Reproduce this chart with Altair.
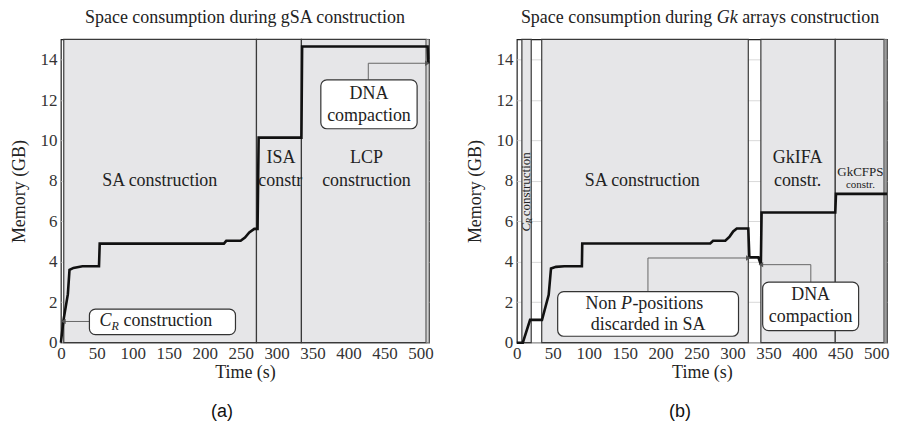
import altair as alt
import pandas as pd

SERIF = "'Liberation Serif', 'Times New Roman', serif"
SANS = "'Liberation Sans', Arial, sans-serif"
INK = "#222222"
PHASE_FILL = "#e6e6e8"
PHASE_EDGE = "#3a3a3a"
Y_MAX = 15
A_XMAX = 512
B_XMAX = 515
W_A, W_B, H = 369, 371, 304

# ---------------- panel (a): gSA construction ----------------
a_time = [0, 3.7, 9.7, 12, 17.5, 30, 53, 54, 226.7, 230, 250, 256, 262, 269,
          273.5, 275, 334.5, 335.5, 510, 511]
a_mem = [0, 1.13, 2.4, 3.6, 3.7, 3.78, 3.78, 4.9, 4.9, 5.04, 5.04, 5.2, 5.45,
         5.63, 5.63, 10.14, 10.14, 14.65, 14.65, 13.8]

a_phase_start = [4, 272, 334.5]
a_phase_end = [272, 334.5, 508]
a_edge_start = [508]
a_edge_end = [512]

a_label_text = ["SA construction", "ISA", "constr", "LCP", "construction"]
a_label_t = [137.5, 306, 305, 425, 425]
a_label_m = [8.0, 9.15, 8.0, 9.15, 8.0]

a_box_t0 = [39.7, 361.5]
a_box_t1 = [242.8, 495.4]
a_box_m0 = [0.4, 10.58]
a_box_m1 = [1.66, 13.0]
a_box_text = ["DNA\ncompaction"]
a_box_text_t = [428.5]
a_box_text_m = [12.3]
a_cr_t = [70.5]
a_cr_m = [1.05]

a_conn_t0 = [39.7, 427.5, 427.5]
a_conn_t1 = [3.5, 427.5, 509.6]
a_conn_m0 = [1.05, 13.0, 13.82]
a_conn_m1 = [1.05, 13.82, 13.82]
a_arrow_t = [3.5, 509.6]
a_arrow_m = [1.05, 13.82]
a_arrow_dir = ["triangle-left", "triangle-right"]

a_title = ["Space consumption during gSA construction"]
a_title_t = [256]
a_title_m = [16.04]
a_tag_t = [224]
a_tag_m = [-3.45]

# ---------------- panel (b): Gk arrays construction ----------------
b_time = [0, 8.3, 18.4, 35, 44.3, 47.5, 54.5, 66, 90.5, 91, 269, 273, 290,
          296, 301, 306, 322, 323.5, 336, 339.5, 340.5, 443, 444, 515]
b_mem = [0, 0, 1.13, 1.13, 2.37, 3.67, 3.75, 3.78, 3.78, 4.91, 4.91, 5.04,
         5.04, 5.25, 5.5, 5.65, 5.65, 4.22, 4.22, 3.86, 6.44, 6.44, 7.36, 7.36]

b_phase_start = [7, 34.6, 339.5, 443]
b_phase_end = [20, 322, 443, 511]
b_edge_start = [511]
b_edge_end = [515]

b_label_text = ["SA construction", "GkIFA", "constr."]
b_label_t = [174.5, 390.6, 390.6]
b_label_m = [8.0, 9.15, 8.0]
b_small_text = ["GkCFPS"]
b_small_t = [478]
b_small_m = [8.42]
b_tiny_text = ["constr."]
b_tiny_t = [478]
b_tiny_m = [7.8]
b_rot_t = [12.5]
b_rot_m = [5.5]
b_rot_sub_t = [16.5]
b_rot_sub_m = [5.9]
b_rot_word_m = [6.25]

b_box_t0 = [56.8, 342]
b_box_t1 = [308.4, 475.5]
b_box_m0 = [0.32, 0.6]
b_box_m1 = [2.53, 3.0]
b_box_text = ["DNA\ncompaction", "discarded in SA"]
b_box_text_t = [408.7, 182.6]
b_box_text_m = [2.37, 0.88]
b_nonp_t = [152.4]
b_nonp_m = [1.93]

b_conn_t0 = [182.4, 182.4, 409, 409]
b_conn_t1 = [182.4, 322, 409, 339.5]
b_conn_m0 = [2.53, 4.19, 3.0, 3.86]
b_conn_m1 = [4.19, 4.19, 3.86, 3.86]
b_arrow_t = [322, 339.5]
b_arrow_m = [4.19, 3.86]
b_arrow_dir = ["triangle-right", "triangle-left"]

b_title_t = [292.6]
b_title_m = [16.04]
b_tag_t = [227]
b_tag_m = [-3.45]


# ---------------- helpers ----------------
def xs(xmax):
    return alt.Scale(domain=[0, xmax], nice=False, zero=False)


YS = alt.Scale(domain=[0, Y_MAX], nice=False, zero=False)

X_AXIS = alt.Axis(values=list(range(0, 501, 50)), grid=False,
                  ticks=False, domain=False, labelFont=SERIF, labelFontSize=17,
                  labelColor="#333333", labelPadding=3, labelFlush=False,
                  labelOverlap=False, titleFont=SERIF, titleFontSize=18,
                  titleFontWeight="normal", titleColor=INK, titlePadding=2)
Y_AXIS = alt.Axis(values=list(range(0, 15, 2)), grid=True,
                  gridColor="#d9d9d9", ticks=False, domain=False,
                  labelFont=SERIF, labelFontSize=17, labelColor="#333333",
                  labelPadding=4, labelFlush=False, labelOverlap=False,
                  titleFont=SERIF, titleFontSize=18, titleFontWeight="normal",
                  titleColor=INK, titlePadding=11)
X_TITLE = "Time (s)"
Y_TITLE = "Memory (GB)"


def XE(field, xmax):
    return alt.X(f"{field}:Q", scale=xs(xmax), axis=X_AXIS, title=X_TITLE)


def YE(field):
    return alt.Y(f"{field}:Q", scale=YS, axis=Y_AXIS, title=Y_TITLE)


def pos(xmax, tx="t", my="m"):
    return dict(x=XE(tx, xmax), y=YE(my))


def text_layer(df, xmax, size, **kw):
    return alt.Chart(df).mark_text(font=SERIF, fontSize=size, color=INK,
                                   baseline="middle", **kw).encode(**pos(xmax))


def span_enc(xmax):
    return dict(x=XE("t0", xmax), x2="t1:Q", y=YE("m0"), y2="m1:Q")


def panel(xmax, curve_t, curve_m, ph0, ph1, ed0, ed1, edge_fill,
          box_t0, box_t1, box_m0, box_m1, c_t0, c_t1, c_m0, c_m1,
          ar_t, ar_m, ar_dir):
    phases = pd.DataFrame({"t0": ph0, "t1": ph1, "m0": [0] * len(ph0),
                           "m1": [Y_MAX] * len(ph0)})
    base = alt.Chart(phases).mark_rect(fill=PHASE_FILL, stroke=PHASE_EDGE,
                                       strokeWidth=1.2).encode(**span_enc(xmax))
    edges = pd.DataFrame({"t0": ed0, "t1": ed1, "m0": [0] * len(ed0),
                          "m1": [Y_MAX] * len(ed0)})
    edge = alt.Chart(edges).mark_rect(fill=edge_fill, stroke="#777777",
                                      strokeWidth=1).encode(**span_enc(xmax))
    curve_df = pd.DataFrame({"t": curve_t, "m": curve_m,
                             "o": list(range(len(curve_t)))})
    curve = alt.Chart(curve_df).mark_line(color="#111111", strokeWidth=2.6,
                                          strokeJoin="miter").encode(
        order="o:Q", **pos(xmax))
    conn_df = pd.DataFrame({"t0": c_t0, "t1": c_t1, "m0": c_m0, "m1": c_m1})
    conn = alt.Chart(conn_df).mark_rule(color="#666666", strokeWidth=1).encode(
        **span_enc(xmax))
    box_df = pd.DataFrame({"t0": box_t0, "t1": box_t1, "m0": box_m0,
                           "m1": box_m1})
    boxes = alt.Chart(box_df).mark_rect(fill="white", stroke="#333333",
                                        strokeWidth=1.2, cornerRadius=6).encode(
        **span_enc(xmax))
    ar_df = pd.DataFrame({"t": ar_t, "m": ar_m, "dir": ar_dir})
    arrows = alt.Chart(ar_df).mark_point(filled=True, size=28, color="#555555",
                                         opacity=1).encode(
        shape=alt.Shape("dir:N", scale=None), **pos(xmax))
    return [base, edge, curve, conn, boxes, arrows]


# ---------------- panel (a) ----------------
la = panel(A_XMAX, a_time, a_mem, a_phase_start, a_phase_end,
           a_edge_start, a_edge_end, "#d0d0d0",
           a_box_t0, a_box_t1, a_box_m0, a_box_m1,
           a_conn_t0, a_conn_t1, a_conn_m0, a_conn_m1,
           a_arrow_t, a_arrow_m, a_arrow_dir)

a_labels = pd.DataFrame({"t": a_label_t, "m": a_label_m, "txt": a_label_text})
a_box_lbl = pd.DataFrame({"t": a_box_text_t, "m": a_box_text_m, "txt": a_box_text})
a_cr = pd.DataFrame({"t": a_cr_t, "m": a_cr_m})
a_ttl = pd.DataFrame({"t": a_title_t, "m": a_title_m, "txt": a_title})
a_tag = pd.DataFrame({"t": a_tag_t, "m": a_tag_m})

la += [
    text_layer(a_labels, A_XMAX, 18, align="center").encode(text="txt:N"),
    text_layer(a_box_lbl, A_XMAX, 18, align="center", lineBreak="\n",
               lineHeight=22).encode(text="txt:N"),
    text_layer(a_cr, A_XMAX, 18, align="right", fontStyle="italic").encode(
        text=alt.value("C")),
    text_layer(a_cr, A_XMAX, 12, align="left", fontStyle="italic", dx=0,
               dy=5).encode(text=alt.value("R")),
    text_layer(a_cr, A_XMAX, 18, align="left", dx=12).encode(
        text=alt.value("construction")),
    text_layer(a_ttl, A_XMAX, 18, align="center").encode(text="txt:N"),
    alt.Chart(a_tag).mark_text(font=SANS, fontSize=18, color="#111111",
                               baseline="middle", align="center").encode(
        text=alt.value("(a)"), **pos(A_XMAX)),
]
chart_a = alt.layer(*la).properties(width=W_A, height=H)

# ---------------- panel (b) ----------------
lb = panel(B_XMAX, b_time, b_mem, b_phase_start, b_phase_end,
           b_edge_start, b_edge_end, "#9c9c9c",
           b_box_t0, b_box_t1, b_box_m0, b_box_m1,
           b_conn_t0, b_conn_t1, b_conn_m0, b_conn_m1,
           b_arrow_t, b_arrow_m, b_arrow_dir)

b_labels = pd.DataFrame({"t": b_label_t, "m": b_label_m, "txt": b_label_text})
b_small = pd.DataFrame({"t": b_small_t, "m": b_small_m, "txt": b_small_text})
b_tiny = pd.DataFrame({"t": b_tiny_t, "m": b_tiny_m, "txt": b_tiny_text})
b_rot = pd.DataFrame({"t": b_rot_t, "m": b_rot_m})
b_rot_sub = pd.DataFrame({"t": b_rot_sub_t, "m": b_rot_sub_m})
b_rot_word = pd.DataFrame({"t": b_rot_t, "m": b_rot_word_m})
b_box_lbl = pd.DataFrame({"t": b_box_text_t, "m": b_box_text_m, "txt": b_box_text})
b_nonp = pd.DataFrame({"t": b_nonp_t, "m": b_nonp_m})
b_ttl = pd.DataFrame({"t": b_title_t, "m": b_title_m})
b_tag = pd.DataFrame({"t": b_tag_t, "m": b_tag_m})

lb += [
    text_layer(b_labels, B_XMAX, 18, align="center").encode(text="txt:N"),
    text_layer(b_small, B_XMAX, 13, align="center").encode(text="txt:N"),
    text_layer(b_tiny, B_XMAX, 11, align="center").encode(text="txt:N"),
    text_layer(b_rot, B_XMAX, 13, align="left", angle=270,
               fontStyle="italic").encode(text=alt.value("C")),
    text_layer(b_rot_sub, B_XMAX, 9, align="left", angle=270,
               fontStyle="italic").encode(text=alt.value("R")),
    text_layer(b_rot_word, B_XMAX, 13, align="left", angle=270).encode(
        text=alt.value("construction")),
    text_layer(b_box_lbl, B_XMAX, 18, align="center", lineBreak="\n",
               lineHeight=22).encode(text="txt:N"),
    text_layer(b_nonp, B_XMAX, 18, align="center", fontStyle="italic").encode(
        text=alt.value("P")),
    text_layer(b_nonp, B_XMAX, 18, align="right", dx=-10).encode(
        text=alt.value("Non")),
    text_layer(b_nonp, B_XMAX, 18, align="left", dx=6).encode(
        text=alt.value("-positions")),
    text_layer(b_ttl, B_XMAX, 18, align="right", dx=-15).encode(
        text=alt.value("Space consumption during")),
    text_layer(b_ttl, B_XMAX, 18, align="center", fontStyle="italic").encode(
        text=alt.value("Gk")),
    text_layer(b_ttl, B_XMAX, 18, align="left", dx=15).encode(
        text=alt.value("arrays construction")),
    alt.Chart(b_tag).mark_text(font=SANS, fontSize=18, color="#111111",
                               baseline="middle", align="center").encode(
        text=alt.value("(b)"), **pos(B_XMAX)),
]
chart_b = alt.layer(*lb).properties(width=W_B, height=H)

chart = alt.hconcat(chart_a, chart_b, spacing=31).properties(
    padding={"left": 2, "top": 0, "right": 0, "bottom": 0},
    background="white",
).configure_view(stroke="#222222", strokeWidth=1.2)

chart.save("out.html", embed_options={"renderer": "svg", "actions": False})
